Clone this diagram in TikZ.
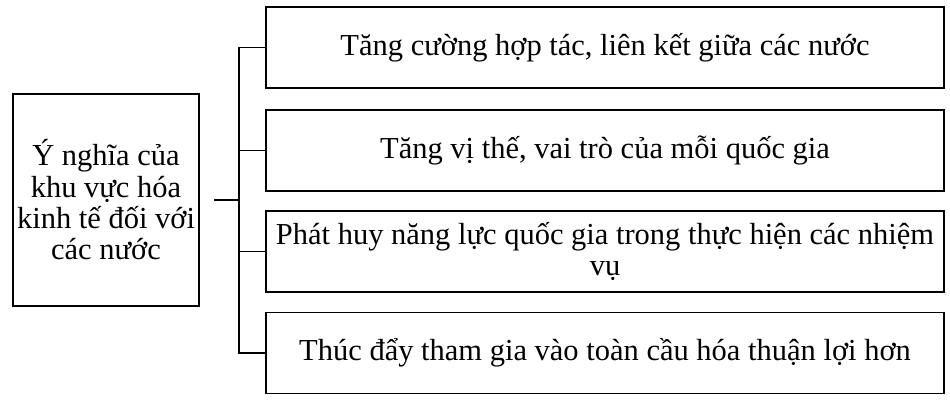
\documentclass[tikz,border=0pt]{standalone}
\usepackage{fontspec}
\setmainfont{Liberation Serif}
\begin{document}
\begin{tikzpicture}[x=1pt,y=-1pt,
  box/.style={draw=black,line width=1.6pt,inner sep=0pt,align=center,font=\fontsize{30.5}{31.3}\selectfont},
  link/.style={draw=black,line width=1.6pt}]
\useasboundingbox (0,0) rectangle (950,402);
\node[box,minimum width=186pt,minimum height=212pt] (main) at (106,200) {Ý nghĩa của\\khu vực hóa\\kinh tế đối với\\các nước};
\node[box,minimum width=678pt,minimum height=81pt] (b1) at (605,47.5) {Tăng cường hợp tác, liên kết giữa các nước};
\node[box,minimum width=678pt,minimum height=81pt] (b2) at (605,150.5) {Tăng vị thế, vai trò của mỗi quốc gia};
\node[box,minimum width=678pt,minimum height=81pt] (b3) at (605,251.5) {Phát huy năng lực quốc gia trong thực hiện các nhiệm\\vụ};
\node[box,minimum width=678pt,minimum height=81pt] (b4) at (605,353) {Thúc đẩy tham gia vào toàn cầu hóa thuận lợi hơn};
\coordinate (s) at ([xshift=14pt]main.east);
\coordinate (j) at (239,200);
\draw[link] (s) -- (j);
\draw[link] (b1.west) -- (b1.west -| j) -- (b4.west -| j) -- (b4.west);
\draw[link] (b2.west) -- (b2.west -| j);
\draw[link] (b3.west) -- (b3.west -| j);
\end{tikzpicture}
\end{document}
